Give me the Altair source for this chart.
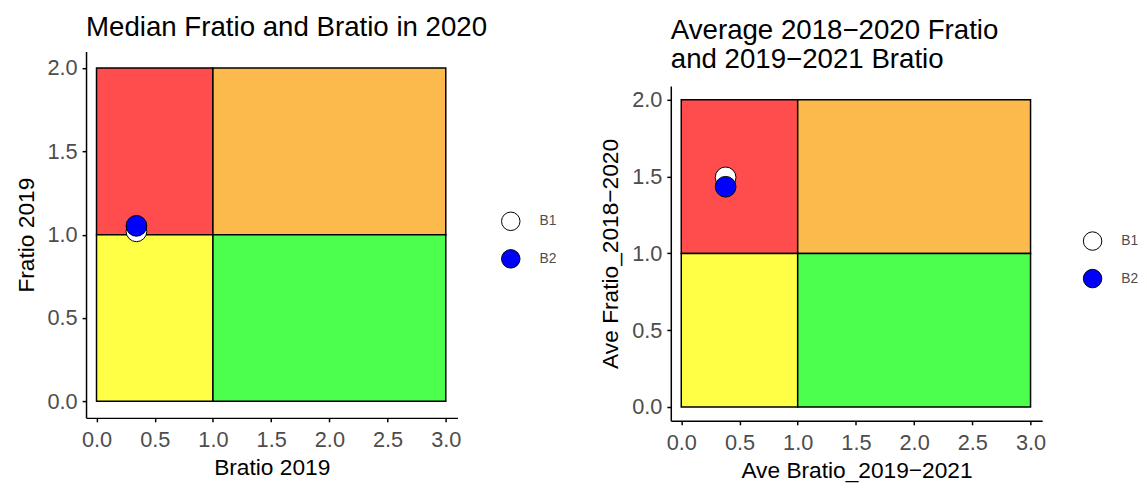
import altair as alt
import pandas as pd

# Quadrant backgrounds (Bratio on x, Fratio on y)
quad_x = [0, 1, 0, 1]
quad_x2 = [1, 3, 1, 3]
quad_y = [1, 1, 0, 0]
quad_y2 = [2, 2, 1, 1]
quad_color = ["#FF4D4D", "#FCB94C", "#FFFF45", "#4DFF4D"]

# Points
groups = ["B1", "B2"]
left_bratio = [0.343, 0.343]
left_fratio = [1.02, 1.053]
right_bratio = [0.381, 0.381]
right_fratio = [1.495, 1.434]

ticks_x = [0, 0.5, 1, 1.5, 2, 2.5, 3]
ticks_y = [0, 0.5, 1, 1.5, 2]

left_title = "Median Fratio and Bratio in 2020"
right_title = "Average 2018\u22122020 Fratio\nand 2019\u22122021 Bratio"

FONT = "Liberation Sans"


def title_chart(text, y0, h):
    return alt.Chart(pd.DataFrame({"t": [text]})).mark_text(
        align="left", baseline="top", fontSize=28, font=FONT, color="black",
        lineBreak="\n", lineHeight=30,
    ).encode(text="t:N", x=alt.value(0), y=alt.value(y0)).properties(width=376, height=h)


def panel(x_title, y_title, bx, fy, height, ydom, leg_x, leg_y):
    quads = pd.DataFrame(dict(x=quad_x, x2=quad_x2, y=quad_y, y2=quad_y2, c=quad_color))
    pts = pd.DataFrame(dict(group=groups, x=bx, y=fy))
    xs = alt.Scale(domain=[-0.09, 3.1], nice=False, zero=False)
    ys = alt.Scale(domain=ydom, nice=False, zero=False)
    xaxis = alt.Axis(values=ticks_x, format=".1f", title=x_title, labelPadding=8, titlePadding=6)
    yaxis = alt.Axis(values=ticks_y, format=".1f", title=y_title, labelPadding=5, titlePadding=9)
    rects = alt.Chart(quads).mark_rect(stroke="black", strokeWidth=1.5).encode(
        x=alt.X("x:Q", scale=xs, axis=xaxis),
        x2="x2:Q",
        y=alt.Y("y:Q", scale=ys, axis=yaxis),
        y2="y2:Q",
        color=alt.Color("c:N", scale=None),
    )
    points = alt.Chart(pts).mark_point(
        filled=True, size=440, stroke="black", strokeWidth=1, opacity=1, shape="circle"
    ).encode(
        x=alt.X("x:Q", scale=xs),
        y=alt.Y("y:Q", scale=ys),
        fill=alt.Fill(
            "group:N",
            scale=alt.Scale(domain=groups, range=["white", "#0000FF"]),
            legend=alt.Legend(
                title=None, orient="none", legendX=leg_x, legendY=leg_y,
                symbolSize=350, symbolType="circle", symbolStrokeColor="black",
                symbolStrokeWidth=1, labelFontSize=14, labelColor="#4D4D4D",
                labelFont=FONT, rowPadding=14, padding=0, labelOffset=19,
            ),
        ),
        order=alt.Order("group:N"),
    )
    return alt.layer(rects, points).properties(width=376, height=height)


# legend positions are relative to each column (title strip + plot)
left_plot = panel("Bratio 2019", "Fratio 2019", left_bratio, left_fratio,
                  371, [-0.1, 2.1], 420, 203)
right_plot = panel("Ave Bratio_2019\u22122021", "Ave Fratio_2018\u22122020",
                   right_bratio, right_fratio, 339, [-0.09, 2.09], 417, 223)

left = alt.vconcat(title_chart(left_title, 3, 41), left_plot, spacing=0)
right = alt.vconcat(title_chart(right_title, 6, 76), right_plot, spacing=0)

chart = alt.hconcat(left, right, spacing=43).resolve_scale(
    x="independent", y="independent", fill="independent", color="independent"
).resolve_legend(fill="independent").properties(
    padding={"left": 7, "top": 0, "right": 0, "bottom": 0}
).configure_view(stroke=None).configure_axis(
    grid=False, domainColor="black", domainWidth=1.5, tickColor="black",
    tickWidth=1.5, tickSize=4, labelColor="#4D4D4D", labelFontSize=22,
    labelFont=FONT, titleFont=FONT, titleFontSize=23, titleColor="black",
    titleFontWeight="normal",
)

chart.save("out.html", embed_options={"renderer": "svg", "actions": False})
